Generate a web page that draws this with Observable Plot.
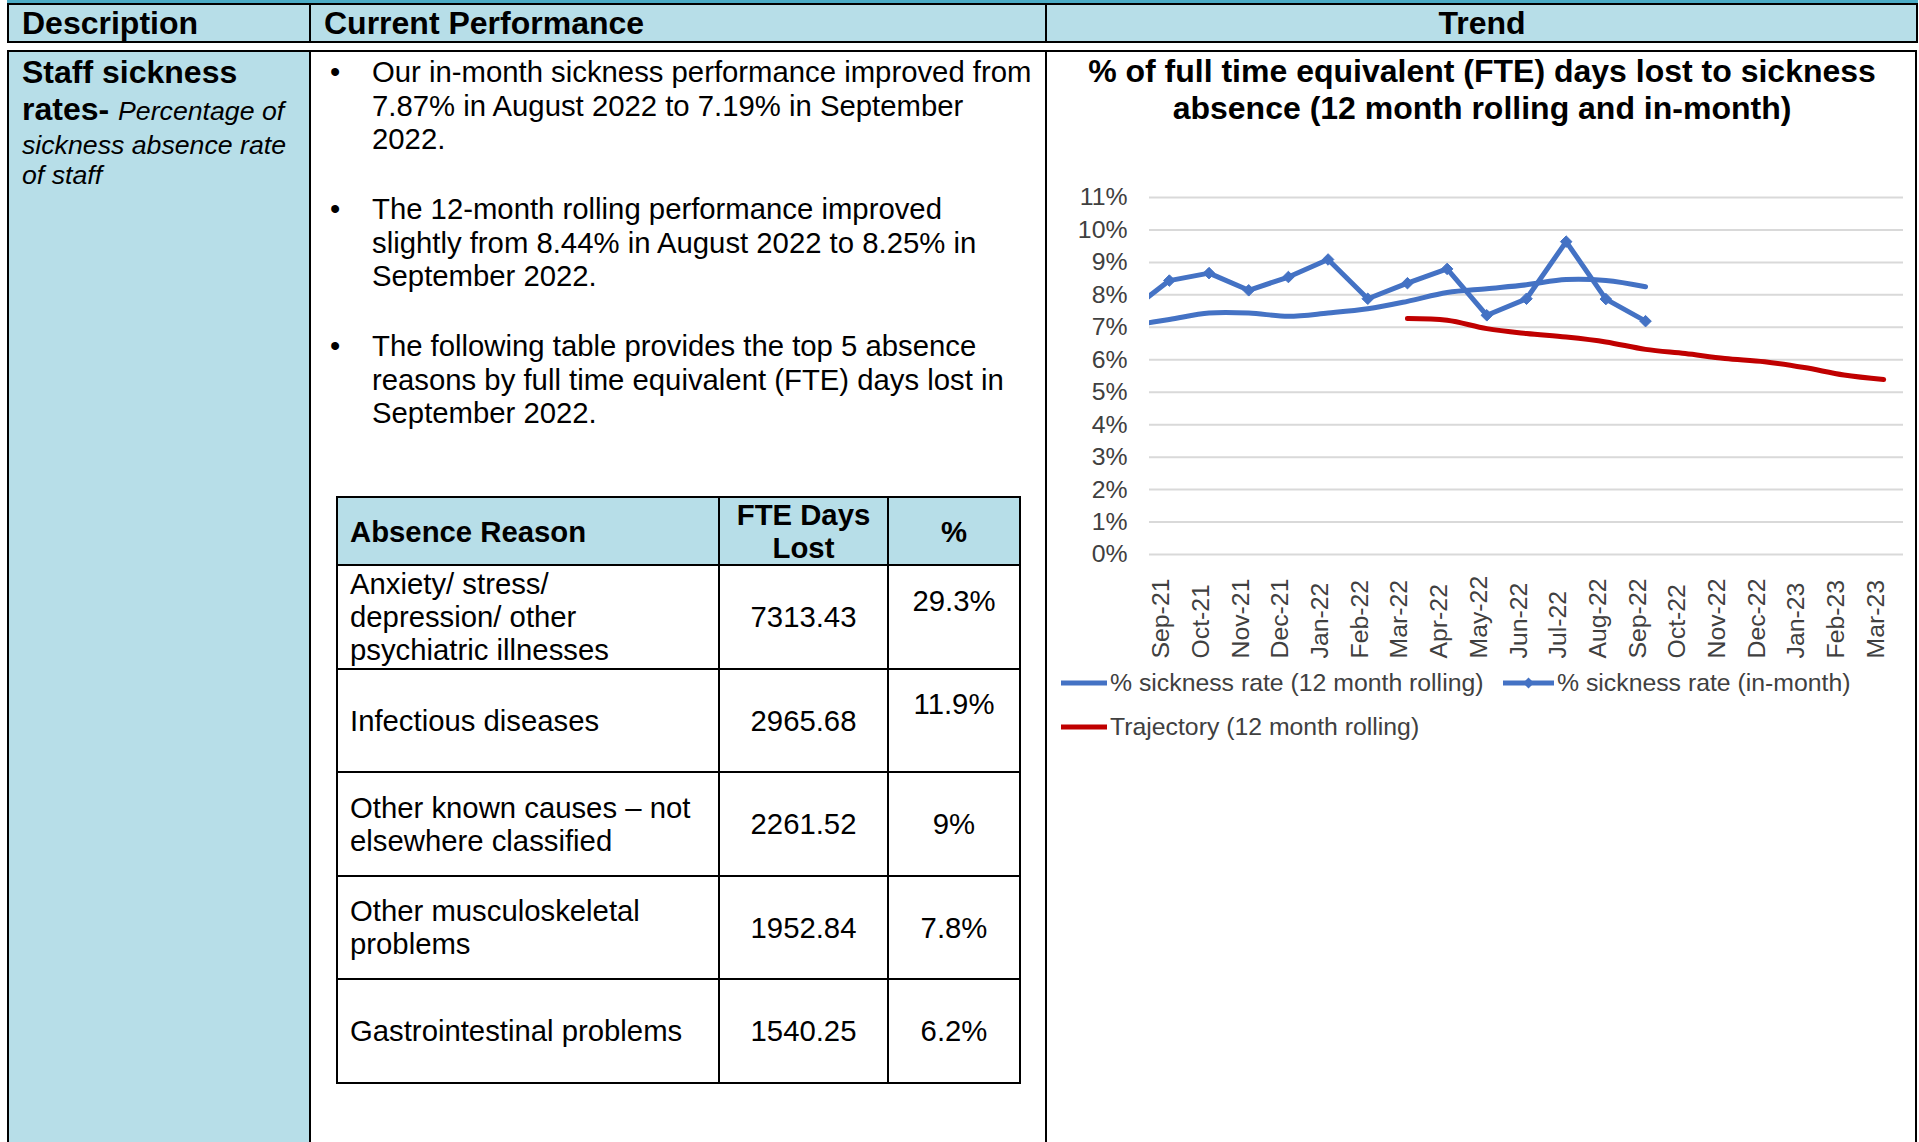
<!DOCTYPE html>
<html>
<head>
<meta charset="utf-8">
<script src="https://cdn.jsdelivr.net/npm/d3@7"></script>
<script src="https://cdn.jsdelivr.net/npm/@observablehq/plot@0.6"></script>
<style>
  html, body { margin: 0; padding: 0; background: #fff; }
  body { width: 1919px; height: 1142px; overflow: hidden; position: relative;
         font-family: "Liberation Sans", Arial, sans-serif; color: #000; }
  .abs { position: absolute; }
  .hdr { font-weight: bold; font-size: 32px; line-height: 36px; top: 5px; white-space: nowrap; }
  .para { font-size: 29.3px; line-height: 33.7px; white-space: nowrap; position: relative; padding-left: 42px; margin-bottom: 35.9px; }
  .para::before { content: "\2022"; position: absolute; left: 0; top: 0; }
  table.abs-tbl { border-collapse: collapse; table-layout: fixed; font-size: 29.3px; line-height: 33px; }
  table.abs-tbl td, table.abs-tbl th { border: 2px solid #000; padding: 0 12px; vertical-align: middle; white-space: pre-line; }
  table.abs-tbl th { background: #b7dee8; font-weight: bold; }
  .legend { font-size: 24.8px; color: #404040; white-space: nowrap; line-height: 28px; }
</style>
</head>
<body>
<!-- page frame -->
<div class="abs" style="left:7px;top:0;width:1911px;height:3px;background:#4bacc6;"></div>
<div class="abs" style="left:7px;top:3px;width:1911px;height:40px;box-sizing:border-box;border:2px solid #000;background:#b7dee8;"></div>
<div class="abs" style="left:309px;top:3px;width:2px;height:40px;background:#000;"></div>
<div class="abs" style="left:1045px;top:3px;width:2px;height:40px;background:#000;"></div>
<div class="abs hdr" style="left:22px;">Description</div>
<div class="abs hdr" style="left:324px;">Current Performance</div>
<div class="abs hdr" style="left:1047px;width:870px;text-align:center;">Trend</div>

<div class="abs" style="left:7px;top:50px;width:1910px;height:1200px;box-sizing:border-box;border:2px solid #000;background:#fff;"></div>
<div class="abs" style="left:9px;top:52px;width:300px;height:1100px;background:#b7dee8;"></div>
<div class="abs" style="left:309px;top:50px;width:2px;height:1100px;background:#000;"></div>
<div class="abs" style="left:1045px;top:50px;width:2px;height:1100px;background:#000;"></div>

<!-- description -->
<div class="abs" style="left:22px;top:53.5px;white-space:nowrap;">
  <div style="font-weight:bold;font-size:32px;line-height:37px;">Staff sickness</div>
  <div style="font-size:32px;line-height:37px;"><b>rates-</b> <i style="font-size:26.7px;">Percentage of</i></div>
  <div style="font-style:italic;font-size:26.7px;line-height:30px;">sickness absence rate<br>of staff</div>
</div>

<!-- current performance -->
<div class="abs" id="bullets" style="left:330px;top:55px;"></div>
<div class="abs" style="left:336px;top:496px;">
  <table class="abs-tbl" id="absTable">
    <colgroup><col style="width:382px"><col style="width:169px"><col style="width:132px"></colgroup>
  </table>
</div>

<!-- trend -->
<div class="abs" id="chartTitle" style="left:1047px;top:52.5px;width:870px;text-align:center;font-weight:bold;font-size:32px;line-height:37px;white-space:nowrap;"></div>
<div class="abs" id="chart" style="left:1047px;top:140px;"></div>
<div class="abs" id="legend" style="left:0;top:0;"></div>

<script>
// ---------- text content ----------
const bulletLines = [
  ["Our in-month sickness performance improved from", "7.87% in August 2022 to 7.19% in September", "2022."],
  ["The 12-month rolling performance improved", "slightly from 8.44% in August 2022 to 8.25% in", "September 2022."],
  ["The following table provides the top 5 absence", "reasons by full time equivalent (FTE) days lost in", "September 2022."]
];
const tableHeaders = ["Absence Reason", "FTE Days\nLost", "%"];
const absenceReasons = [
  "Anxiety/ stress/\ndepression/ other\npsychiatric illnesses",
  "Infectious diseases",
  "Other known causes \u2013 not\nelsewhere classified",
  "Other musculoskeletal\nproblems",
  "Gastrointestinal problems"
];
const fteDaysLost = ["7313.43", "2965.68", "2261.52", "1952.84", "1540.25"];
const absencePercent = ["29.3%", "11.9%", "9%", "7.8%", "6.2%"];

const chartTitleLines = ["% of full time equivalent (FTE) days lost to sickness", "absence (12 month rolling and in-month)"];

// ---------- chart data ----------
// Aug-21 lies just before the first shown category; only its joining segment is visible.
const months = ["Aug-21","Sep-21","Oct-21","Nov-21","Dec-21","Jan-22","Feb-22","Mar-22","Apr-22","May-22",
                "Jun-22","Jul-22","Aug-22","Sep-22","Oct-22","Nov-22","Dec-22","Jan-23","Feb-23","Mar-23"];
const firstShown = 1;
const rollingRate = [7.05, 7.24, 7.44, 7.44, 7.34, 7.44, 7.57, 7.80, 8.07, 8.19, 8.31, 8.47, 8.44, 8.25,
                     null, null, null, null, null, null];
const inMonthRate = [7.50, 8.44, 8.67, 8.14, 8.55, 9.09, 7.88, 8.36, 8.80, 7.37, 7.88, 9.64, 7.87, 7.19,
                     null, null, null, null, null, null];
const trajectoryRate = [null, null, null, null, null, null, null, 7.27, 7.22, 6.96, 6.81, 6.70, 6.55, 6.32,
                        6.19, 6.04, 5.94, 5.76, 5.53, 5.39];
const yTicks = [0, 1, 2, 3, 4, 5, 6, 7, 8, 9, 10, 11];
const seriesNames = ["% sickness rate (12 month rolling)", "% sickness rate (in-month)", "Trajectory (12 month rolling)"];
const blue = "#4472c4", red = "#c00000", axisText = "#404040";

// ---------- build text blocks ----------
const bullets = document.getElementById("bullets");
bulletLines.forEach(lines => {
  const p = document.createElement("div");
  p.className = "para";
  p.innerHTML = lines.join("<br>");
  bullets.appendChild(p);
});

const tbl = document.getElementById("absTable");
const hr = document.createElement("tr");
hr.style.height = "68px";
tableHeaders.forEach((h, i) => {
  const th = document.createElement("th");
  th.textContent = h;
  th.style.textAlign = i === 0 ? "left" : "center";
  th.style.lineHeight = "33px";
  hr.appendChild(th);
});
tbl.appendChild(hr);
absenceReasons.forEach((r, i) => {
  const tr = document.createElement("tr");
  tr.style.height = "103.5px";
  const c1 = document.createElement("td"); c1.textContent = r;
  const c2 = document.createElement("td"); c2.textContent = fteDaysLost[i]; c2.style.textAlign = "center";
  const c3 = document.createElement("td"); c3.textContent = absencePercent[i]; c3.style.textAlign = "center";
  if (i < 2) c3.style.paddingBottom = "33px"; // these cells carry a trailing empty line in the source
  tr.append(c1, c2, c3);
  tbl.appendChild(tr);
});

document.getElementById("chartTitle").innerHTML = chartTitleLines.join("<br>");

// ---------- chart ----------
const rows = months.map((m, k) => ({
  month: m, i: k - firstShown,
  rolling: rollingRate[k], inMonth: inMonthRate[k], trajectory: trajectoryRate[k]
}));
const shown = rows.filter(d => d.i >= 0);

const chart = Plot.plot({
  width: 870,
  height: 530,
  marginLeft: 102,
  marginRight: 14,
  marginTop: 57,
  marginBottom: 116,
  x: { type: "linear", domain: [-0.5, months.length - firstShown - 0.5], axis: null },
  y: { domain: [0, 11], axis: null },
  style: { fontFamily: "'Liberation Sans', Arial, sans-serif", fontSize: "24.8px", color: axisText,
           background: "transparent", overflow: "visible" },
  marks: [
    Plot.ruleY(yTicks, { stroke: "#d9d9d9", strokeWidth: 2 }),
    Plot.axisY(yTicks, { tickSize: 0, tickPadding: 22, tickFormat: d => d + "%", fontSize: 24.8, fill: axisText }),
    Plot.text(shown, { x: "i", text: "month", frameAnchor: "bottom", dy: 104, rotate: -90,
                       textAnchor: "start", fontSize: 24.8, fill: axisText }),
    Plot.line(rows.filter(d => d.rolling != null), { x: "i", y: "rolling", stroke: blue, strokeWidth: 5,
                       curve: "catmull-rom", clip: true }),
    Plot.line(rows.filter(d => d.trajectory != null), { x: "i", y: "trajectory", stroke: red, strokeWidth: 5,
                       curve: "catmull-rom", clip: true }),
    Plot.line(rows.filter(d => d.inMonth != null), { x: "i", y: "inMonth", stroke: blue, strokeWidth: 5, clip: true }),
    Plot.dot(rows.filter(d => d.inMonth != null), { x: "i", y: "inMonth", symbol: "diamond2", r: 5.2,
                       fill: blue, stroke: blue, strokeWidth: 1, clip: true })
  ]
});
document.getElementById("chart").appendChild(chart);

// ---------- legend ----------
function swatch(color, w, marker) {
  const ns = "http://www.w3.org/2000/svg";
  const s = document.createElementNS(ns, "svg");
  s.setAttribute("width", w); s.setAttribute("height", 14);
  s.style.verticalAlign = "middle";
  const l = document.createElementNS(ns, "line");
  l.setAttribute("x1", 1); l.setAttribute("x2", w - 1); l.setAttribute("y1", 7); l.setAttribute("y2", 7);
  l.setAttribute("stroke", color); l.setAttribute("stroke-width", 5);
  s.appendChild(l);
  if (marker) {
    const p = document.createElementNS(ns, "path");
    const c = w / 2;
    p.setAttribute("d", `M${c},1.5L${c + 5.5},7L${c},12.5L${c - 5.5},7Z`);
    p.setAttribute("fill", color);
    s.appendChild(p);
  }
  return s;
}
const legend = document.getElementById("legend");
const legendItems = [
  { name: seriesNames[0], color: blue, marker: false, left: 1060, top: 668, w: 48 },
  { name: seriesNames[1], color: blue, marker: true, left: 1502, top: 668, w: 53 },
  { name: seriesNames[2], color: red, marker: false, left: 1060, top: 712, w: 48 }
];
legendItems.forEach(it => {
  const d = document.createElement("div");
  d.className = "abs legend";
  d.style.left = it.left + "px"; d.style.top = it.top + "px";
  d.appendChild(swatch(it.color, it.w, it.marker));
  const t = document.createElement("span");
  t.textContent = it.name;
  t.style.verticalAlign = "middle";
  t.style.marginLeft = "2px";
  d.appendChild(t);
  legend.appendChild(d);
});
</script>
</body>
</html>
